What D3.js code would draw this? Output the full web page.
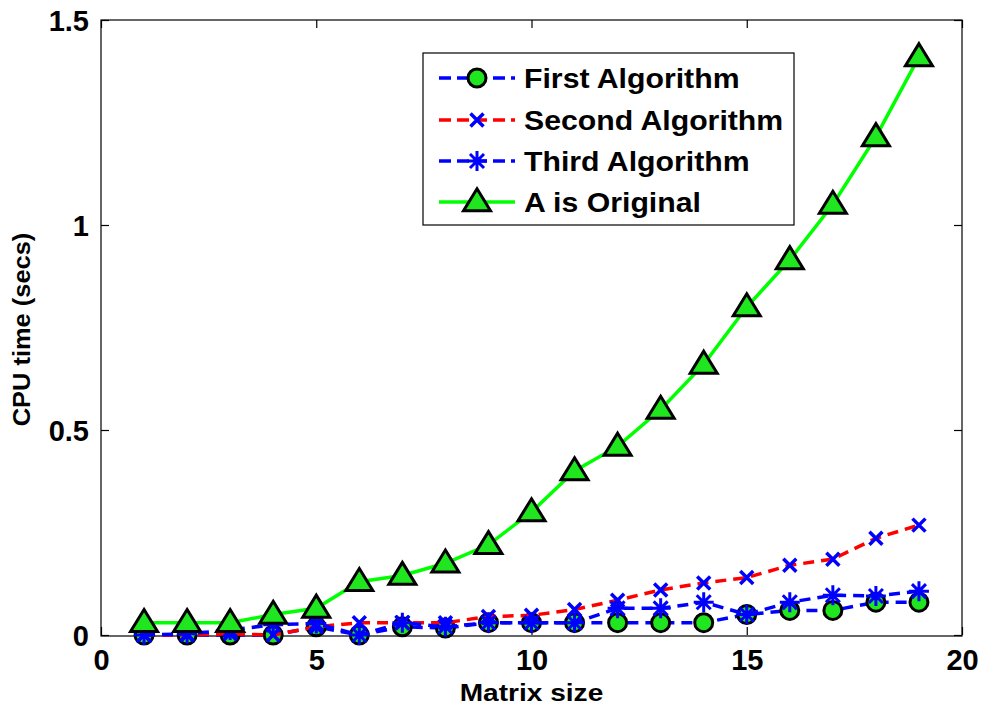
<!DOCTYPE html>
<html>
<head>
<meta charset="utf-8">
<script src="https://cdn.jsdelivr.net/npm/d3@7"></script>
<style>
  html, body { margin: 0; padding: 0; background: #fff; }
  svg { display: block; }
  text { font-family: "Liberation Sans", Arial, sans-serif; font-weight: bold; fill: #000; }
</style>
</head>
<body>
<svg id="chart" width="981" height="709"></svg>
<script>
// ---- data ----
const matrixSizes = [1, 2, 3, 4, 5, 6, 7, 8, 9, 10, 11, 12, 13, 14, 15, 16, 17, 18, 19];
const firstAlgorithm  = [0, 0, 0, 0, 0.02, 0, 0.02, 0.017, 0.03, 0.03, 0.03, 0.03, 0.03, 0.03, 0.05, 0.06, 0.06, 0.08, 0.08];
const secondAlgorithm = [0, 0, 0.003, 0, 0.02, 0.03, 0.03, 0.03, 0.045, 0.048, 0.062, 0.085, 0.11, 0.127, 0.14, 0.17, 0.185, 0.236, 0.268];
const thirdAlgorithm  = [0, 0.003, 0.012, 0.025, 0.028, 0, 0.03, 0.02, 0.03, 0.03, 0.03, 0.065, 0.065, 0.08, 0.05, 0.08, 0.097, 0.095, 0.107];
const aIsOriginal     = [0.03, 0.03, 0.03, 0.05, 0.065, 0.13, 0.145, 0.175, 0.22, 0.30, 0.40, 0.46, 0.55, 0.66, 0.80, 0.915, 1.05, 1.215, 1.41];
const seriesNames = ["First Algorithm", "Second Algorithm", "Third Algorithm", "A is Original"];
const xTicks = [0, 5, 10, 15, 20];
const yTicks = [0, 0.5, 1, 1.5];
const yTickLabels = ["0", "0.5", "1", "1.5"];
const titleText = "Running Time of the Algorithms";
const xLabel = "Matrix size";
const yLabel = "CPU time (secs)";

// ---- layout ----
const L = 101, R = 962, T = 20, B = 635;
const svg = d3.select("#chart");
const x = d3.scaleLinear().domain([0, 20]).range([L, R]);
const y = d3.scaleLinear().domain([0, 1.5]).range([B, T]);

const BLUE = "#0000ff", RED = "#ff0000", GREEN = "#00ff00", FILL = "#1fe61f";

// title (mostly above the window, as in the reference)
svg.append("text").attr("x", 324).attr("y", -5)
  .attr("font-size", 24).text(titleText);

// axes box
svg.append("rect").attr("x", L).attr("y", T).attr("width", R - L).attr("height", B - T + 1)
  .attr("fill", "none").attr("stroke", "#000").attr("stroke-width", 1.2);

const tickLen = 8;
function styleAxis(g) {
  g.select(".domain").remove();
  g.selectAll(".tick line").attr("stroke", "#000").attr("stroke-width", 1.2);
}
svg.append("g").attr("transform", `translate(0,${B})`)
  .call(d3.axisBottom(x).tickValues(xTicks).tickSize(-tickLen).tickPadding(14).tickFormat(d3.format("d")))
  .call(styleAxis)
  .call(g => g.selectAll("text").attr("font-size", 29).attr("font-family", "Liberation Sans, Arial").attr("font-weight", "bold").attr("fill", "#000"));
svg.append("g").attr("transform", `translate(0,${T})`)
  .call(d3.axisTop(x).tickValues(xTicks).tickSize(-tickLen).tickFormat(""))
  .call(styleAxis);
svg.append("g").attr("transform", `translate(${L},0)`)
  .call(d3.axisLeft(y).tickValues(yTicks).tickSize(-tickLen).tickPadding(12).tickFormat((d, i) => yTickLabels[i]))
  .call(styleAxis)
  .call(g => g.selectAll("text").attr("font-size", 29).attr("font-family", "Liberation Sans, Arial").attr("font-weight", "bold").attr("fill", "#000").attr("dy", "0.36em"));
svg.append("g").attr("transform", `translate(${R},0)`)
  .call(d3.axisRight(y).tickValues(yTicks).tickSize(-tickLen).tickFormat(""))
  .call(styleAxis);

// axis labels
svg.append("text").attr("transform", `translate(${(L + R) / 2},701) scale(1.17,1)`)
  .attr("text-anchor", "middle").attr("font-size", 24).text(xLabel);
svg.append("text").attr("transform", `translate(30,${(236 + 423) / 2}) rotate(-90) scale(1.06,1)`)
  .attr("text-anchor", "middle").attr("font-size", 24).text(yLabel);

// ---- markers ----
function circleMarker(g, cx, cy) {
  g.append("circle").attr("cx", cx).attr("cy", cy).attr("r", 9)
    .attr("fill", FILL).attr("stroke", "#000").attr("stroke-width", 3);
}
function xMarker(g, cx, cy) {
  const s = 6.5;
  g.append("path").attr("d", `M${cx - s},${cy - s}L${cx + s},${cy + s}M${cx - s},${cy + s}L${cx + s},${cy - s}`)
    .attr("stroke", BLUE).attr("stroke-width", 3.5).attr("fill", "none");
}
function starMarker(g, cx, cy) {
  const s = 10, d = 7;
  g.append("path").attr("d",
    `M${cx - s},${cy}L${cx + s},${cy}M${cx},${cy - s}L${cx},${cy + s}` +
    `M${cx - d},${cy - d}L${cx + d},${cy + d}M${cx - d},${cy + d}L${cx + d},${cy - d}`)
    .attr("stroke", BLUE).attr("stroke-width", 3).attr("fill", "none");
}
function triMarker(g, cx, cy) {
  const w = 13.5, h = 22;
  g.append("path").attr("d", `M${cx},${cy - h * 0.6}L${cx + w},${cy + h * 0.4}L${cx - w},${cy + h * 0.4}Z`)
    .attr("fill", FILL).attr("stroke", "#000").attr("stroke-width", 3).attr("stroke-linejoin", "miter");
}

const series = [
  { vals: firstAlgorithm,  color: BLUE,  dash: "11,7", marker: circleMarker },
  { vals: secondAlgorithm, color: RED,   dash: "11,7", marker: xMarker },
  { vals: thirdAlgorithm,  color: BLUE,  dash: "11,7", marker: starMarker },
  { vals: aIsOriginal,     color: GREEN, dash: null,   marker: triMarker }
];

const line = d3.line().x(d => x(d[0])).y(d => y(d[1]));
series.forEach(s => {
  const pts = matrixSizes.map((m, i) => [m, s.vals[i]]);
  const g = svg.append("g");
  g.append("path").attr("d", line(pts)).attr("fill", "none")
    .attr("stroke", s.color).attr("stroke-width", 3.5)
    .attr("stroke-dasharray", s.dash);
  pts.forEach(p => s.marker(g, x(p[0]), y(p[1])));
});

// ---- legend ----
const lg = svg.append("g");
lg.append("rect").attr("x", 423).attr("y", 53).attr("width", 371).attr("height", 172)
  .attr("fill", "#fff").attr("stroke", "#000").attr("stroke-width", 1.2);
const rowY = [78, 120, 161, 202];
series.forEach((s, i) => {
  const yy = rowY[i];
  lg.append("line").attr("x1", 439).attr("x2", 515).attr("y1", yy).attr("y2", yy)
    .attr("stroke", s.color).attr("stroke-width", 3.5).attr("stroke-dasharray", s.dash ? "12,6" : null);
  s.marker(lg, 477, yy);
  lg.append("text").attr("transform", `translate(524,${yy}) scale(1.12,1)`).attr("dy", "0.36em")
    .attr("font-size", 27).text(seriesNames[i]);
});
</script>
</body>
</html>
